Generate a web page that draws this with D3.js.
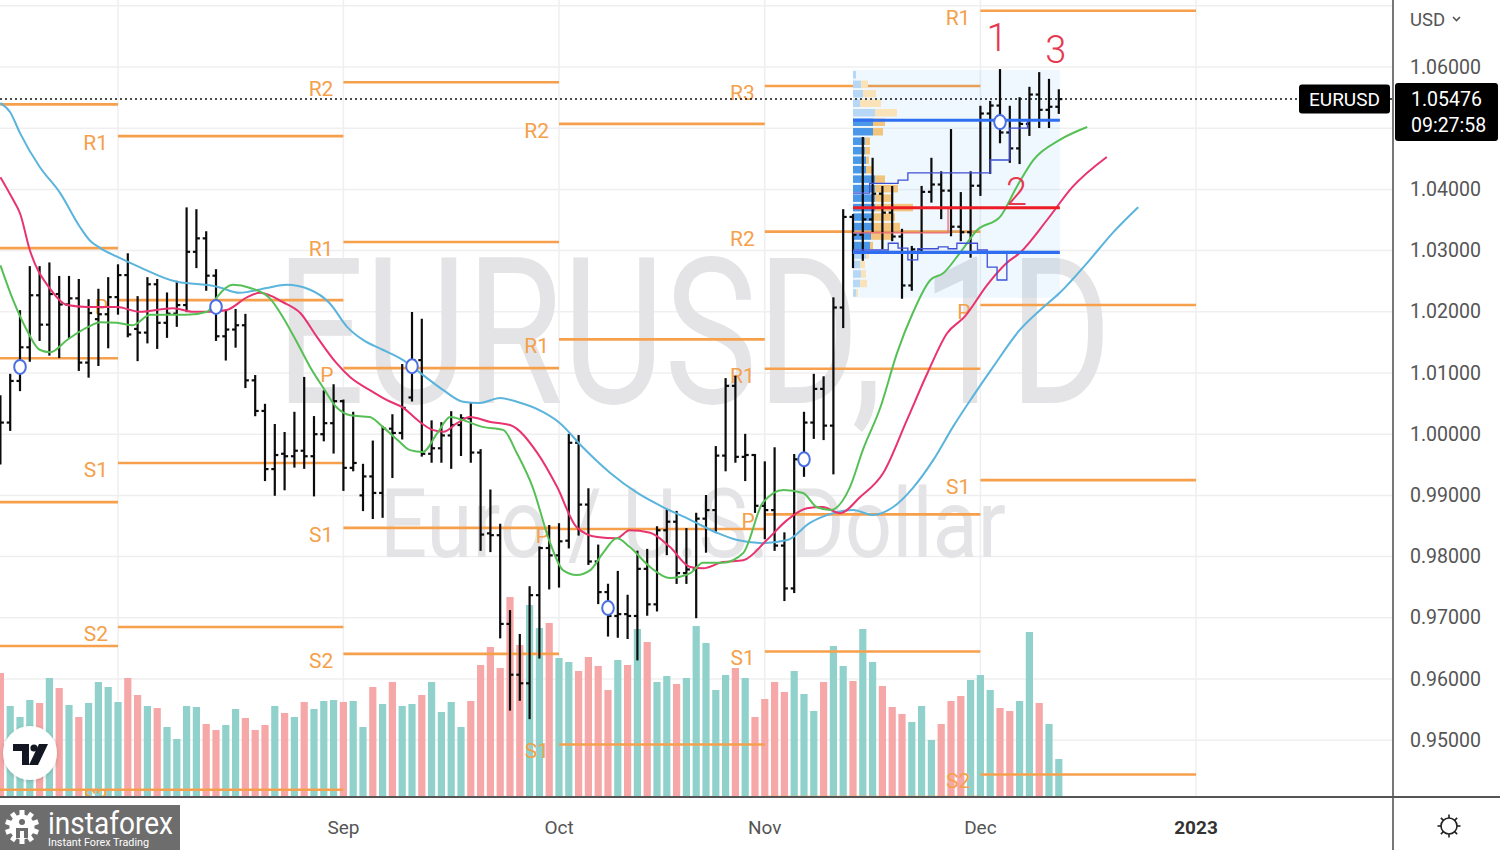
<!DOCTYPE html>
<html><head><meta charset="utf-8">
<script src="https://cdn.jsdelivr.net/npm/d3@7"></script>
<style>html,body{margin:0;padding:0;background:#fff;overflow:hidden}svg{display:block}</style>
</head><body>
<svg id="c" width="1500" height="850"></svg>
<script>
// ---------------- DATA ----------------
const dates = ["2022-07-14","2022-07-15","2022-07-18","2022-07-19","2022-07-20","2022-07-21","2022-07-22","2022-07-25","2022-07-26","2022-07-27","2022-07-28","2022-07-29",
"2022-08-01","2022-08-02","2022-08-03","2022-08-04","2022-08-05","2022-08-08","2022-08-09","2022-08-10","2022-08-11","2022-08-12","2022-08-15","2022-08-16","2022-08-17","2022-08-18","2022-08-19","2022-08-22","2022-08-23","2022-08-24","2022-08-25","2022-08-26","2022-08-29","2022-08-30","2022-08-31",
"2022-09-01","2022-09-02","2022-09-05","2022-09-06","2022-09-07","2022-09-08","2022-09-09","2022-09-12","2022-09-13","2022-09-14","2022-09-15","2022-09-16","2022-09-19","2022-09-20","2022-09-21","2022-09-22","2022-09-23","2022-09-26","2022-09-27","2022-09-28","2022-09-29","2022-09-30",
"2022-10-03","2022-10-04","2022-10-05","2022-10-06","2022-10-07","2022-10-10","2022-10-11","2022-10-12","2022-10-13","2022-10-14","2022-10-17","2022-10-18","2022-10-19","2022-10-20","2022-10-21","2022-10-24","2022-10-25","2022-10-26","2022-10-27","2022-10-28","2022-10-31",
"2022-11-01","2022-11-02","2022-11-03","2022-11-04","2022-11-07","2022-11-08","2022-11-09","2022-11-10","2022-11-11","2022-11-14","2022-11-15","2022-11-16","2022-11-17","2022-11-18","2022-11-21","2022-11-22","2022-11-23","2022-11-24","2022-11-25","2022-11-28","2022-11-29","2022-11-30",
"2022-12-01","2022-12-02","2022-12-05","2022-12-06","2022-12-07","2022-12-08","2022-12-09","2022-12-12","2022-12-13"];

const openP = [1.0058,1.0019,1.0087,1.0142,1.0227,1.0179,1.0229,1.0212,1.0222,1.0117,1.0188,1.0196,
1.0224,1.0260,1.0172,1.0166,1.0245,1.0182,1.0197,1.0211,1.0298,1.0320,1.0259,1.0160,1.0171,1.0178,1.0088,1.0038,0.9943,0.9968,0.9964,0.9973,0.9964,1.0000,1.0018,
1.0054,0.9945,0.9900,0.9931,0.9904,1.0009,1.0002,1.0060,1.0121,0.9968,0.9977,0.9998,1.0015,1.0026,0.9970,0.9838,0.9835,0.9690,0.9607,0.9593,0.9737,0.9814,
0.9802,0.9826,0.9986,0.9885,0.9792,0.9742,0.9703,0.9706,0.9703,0.9780,0.9722,0.9843,0.9857,0.9773,0.9779,0.9862,0.9876,0.9965,1.0079,0.9963,0.9966,
0.9883,0.9876,0.9818,0.9748,0.9959,1.0019,1.0074,1.0014,1.0207,1.0355,1.0326,1.0351,1.0393,1.0362,1.0323,1.0243,1.0302,1.0396,1.0408,1.0398,1.0339,1.0330,
1.0406,1.0524,1.0537,1.0493,1.0467,1.0507,1.0555,1.0530,1.0535];

const highP = [1.0062,1.0097,1.0201,1.0273,1.0273,1.0279,1.0257,1.0257,1.0252,1.0219,1.0236,1.0255,
1.0276,1.0294,1.0224,1.0255,1.0252,1.0230,1.0249,1.0369,1.0366,1.0330,1.0268,1.0202,1.0203,1.0195,1.0095,1.0048,1.0015,1.0002,1.0035,1.0092,1.0028,1.0070,1.0080,
1.0055,1.0035,0.9950,0.9988,1.0012,1.0031,1.0113,1.0198,1.0187,1.0021,1.0018,1.0036,1.0031,1.0051,0.9974,0.9908,0.9852,0.9711,0.9672,0.9750,0.9815,0.9850,
0.9853,0.9999,0.9997,0.9910,0.9818,0.9754,0.9775,0.9736,0.9808,0.9811,0.9848,0.9876,0.9873,0.9845,0.9870,0.9899,0.9979,1.0090,1.0094,0.9999,0.9966,
0.9954,0.9977,0.9838,0.9966,1.0035,1.0097,1.0093,1.0222,1.0366,1.0358,1.0484,1.0450,1.0404,1.0404,1.0334,1.0306,1.0404,1.0450,1.0428,1.0497,1.0394,1.0428,
1.0535,1.0543,1.0595,1.0535,1.0549,1.0566,1.0590,1.0579,1.0562];

const lowP = [0.9952,1.0007,1.0072,1.0120,1.0154,1.0130,1.0126,1.0159,1.0105,1.0094,1.0113,1.0142,
1.0197,1.0160,1.0121,1.0150,1.0141,1.0159,1.0177,1.0201,1.0273,1.0236,1.0154,1.0122,1.0143,1.0077,1.0031,0.9925,0.9901,0.9910,0.9947,0.9945,0.9900,0.9990,0.9970,
0.9909,0.9941,0.9876,0.9863,0.9865,0.9930,0.9993,1.0055,0.9965,0.9955,0.9955,0.9945,0.9966,0.9955,0.9811,0.9809,0.9668,0.9550,0.9566,0.9536,0.9635,0.9748,
0.9751,0.9815,0.9836,0.9788,0.9724,0.9671,0.9669,0.9667,0.9632,0.9705,0.9712,0.9804,0.9757,0.9757,0.9701,0.9808,0.9840,0.9941,0.9955,0.9925,0.9873,
0.9830,0.9811,0.9729,0.9742,0.9932,0.9994,0.9992,0.9936,1.0175,1.0273,1.0285,1.0332,1.0304,1.0317,1.0223,1.0236,1.0296,1.0380,1.0353,1.0325,1.0317,1.0290,
1.0391,1.0427,1.0477,1.0445,1.0443,1.0489,1.0502,1.0502,1.0525];

const closeP = [1.0019,1.0087,1.0142,1.0227,1.0179,1.0229,1.0212,1.0222,1.0117,1.0198,1.0196,1.0224,
1.0260,1.0163,1.0166,1.0245,1.0182,1.0197,1.0211,1.0298,1.0320,1.0259,1.0160,1.0171,1.0178,1.0088,1.0038,0.9943,0.9966,0.9964,0.9973,0.9964,1.0000,1.0018,1.0054,
0.9945,0.9953,0.9931,0.9904,1.0009,1.0002,1.0043,1.0121,0.9968,0.9977,0.9998,1.0015,1.0026,0.9970,0.9836,0.9835,0.9690,0.9607,0.9593,0.9737,0.9814,0.9802,
0.9825,0.9986,0.9885,0.9792,0.9742,0.9703,0.9706,0.9703,0.9780,0.9722,0.9843,0.9857,0.9773,0.9779,0.9862,0.9876,0.9965,1.0079,0.9963,0.9966,0.9883,
0.9876,0.9818,0.9748,0.9959,1.0019,1.0074,1.0014,1.0207,1.0355,1.0326,1.0351,1.0393,1.0362,1.0323,1.0243,1.0302,1.0396,1.0408,1.0398,1.0339,1.0330,1.0406,
1.0524,1.0537,1.0493,1.0467,1.0507,1.0555,1.0530,1.0535,1.05476];

const volume = [124,91,80,97,94,119,109,92,80,94,115,110,
95,119,102,91,89,70,58,91,90,73,67,72,88,79,67,72,91,84,80,95,88,96,97,
95,96,70,110,93,115,91,93,102,115,85,95,70,96,132,150,129,200,152,192,169,174,
139,135,126,140,131,107,137,132,168,155,115,121,113,119,171,154,107,122,129,119,80,
98,115,105,126,103,86,115,151,131,116,168,135,111,90,83,75,91,57,73,96,101,117,
122,107,89,86,96,165,94,73,38];

// session offset of first bar relative to 1 Aug 2022
const firstOffset = -12;

// time axis (the "Aug" label sits under the broker logo in the reference)
const monthTickOffsets = [0,23,45,66,88,110];
const monthTickLabels = ["Aug","Sep","Oct","Nov","Dec","2023"];
const hiddenTickLabels = ["Aug"];

// price axis
const priceGrid = [0.94,0.95,0.96,0.97,0.98,0.99,1.00,1.01,1.02,1.03,1.04,1.05,1.06,1.07];
const priceLabels = [1.06,1.04,1.03,1.02,1.01,1.00,0.99,0.98,0.97,0.96,0.95];

// Alligator lines (session offset, price)
const jawAt  = [-12,-11,-10,-8,-5.9,-3.9,-2.9,-1.8,-0.1,2.2,6,8.4,10.1,12.4,15.2,17.2,19.6,21.6,23.4,25,27,29.1,31.1,33.2,35.2,36.9,39,40.7,43.4,45.1,47.4,50.2,53,55.6,58.4,61.1,63.2,65.8,68.3,70.6,73,75,77,79.1,81.1,83.2,85.2,87.2,89.3,92,94.1,96.1,98.9,101.5,104.1];
const jawVal = [1.0541,1.0526,1.0492,1.0437,1.0394,1.0339,1.0317,1.0304,1.0290,1.0273,1.0249,1.0245,1.0241,1.0231,1.0239,1.0244,1.0236,1.0214,1.0175,1.0154,1.0138,1.0121,1.0097,1.0072,1.0053,1.0051,1.0059,1.0053,1.0036,1.0018,0.9979,0.9937,0.9904,0.9881,0.9860,0.9839,0.9827,0.9822,0.9827,0.9855,0.9871,0.9876,0.9868,0.9881,0.9912,0.9958,1.0012,1.0061,1.0110,1.0170,1.0203,1.0231,1.0280,1.0329,1.0371];
const teethAt  = [-12,-10.7,-10,-9,-6.9,-5.2,-3.2,-0.1,2.2,5.6,7.7,9.4,11.1,13.2,14.5,16.8,18.6,20.3,22.3,23.7,25.7,27.4,29.1,30.8,32.1,33.2,34.6,35.9,38,40,42.8,44.8,46.8,48.9,50.9,52.2,54.3,56.3,58.4,59.7,61.7,63.8,66.2,68.3,70.3,71.9,73.7,75.7,78.1,80.5,82.6,84.6,86.4,88.7,90.7,92,94.8,97.4,100.9];
const teethVal = [1.0420,1.0383,1.0361,1.0301,1.0237,1.0211,1.0208,1.0208,1.0200,1.0206,1.0200,1.0200,1.0203,1.0224,1.0231,1.0216,1.0198,1.0159,1.0116,1.0093,1.0072,1.0056,1.0043,1.0020,1.0007,1.0004,1.0018,1.0028,1.0020,1.0015,0.9969,0.9914,0.9848,0.9832,0.9830,0.9843,0.9839,0.9816,0.9783,0.9781,0.9791,0.9794,0.9827,0.9860,0.9879,0.9881,0.9871,0.9897,0.9937,1.0023,1.0100,1.0165,1.0192,1.0244,1.0280,1.0296,1.0350,1.0404,1.0453];
const lipsAt  = [-12,-10.7,-9.3,-8,-6.9,-5.2,-3.2,-1.8,-0.1,1.5,3.3,7,9.1,10.1,11.7,13.5,15.5,16.8,18.3,19.6,20.9,22.3,23.7,25.7,27,28.5,29.8,31.1,32.6,33.9,35.2,37.2,39.3,40.7,42.3,44.1,45.4,46.8,48.2,49.5,50.9,52.2,54.3,56.3,58.4,59.7,61.7,63.8,65.8,67.9,69.9,71.3,72.7,74.7,76,77.8,79.5,81.1,82.9,84.2,85.9,87.7,90,91.7,93.4,96.1,98.9];
const lipsVal = [1.0276,1.0219,1.0170,1.0138,1.0134,1.0154,1.0174,1.0183,1.0182,1.0178,1.0195,1.0195,1.0200,1.0224,1.0244,1.0239,1.0222,1.0192,1.0149,1.0110,1.0077,1.0044,1.0031,1.0028,1.0012,0.9991,0.9974,0.9971,1.0002,1.0028,1.0023,1.0012,1.0007,0.9969,0.9914,0.9822,0.9778,0.9770,0.9778,0.9806,0.9830,0.9816,0.9783,0.9765,0.9773,0.9790,0.9790,0.9806,0.9888,0.9909,0.9904,0.9881,0.9876,0.9914,0.9974,1.0044,1.0133,1.0198,1.0252,1.0263,1.0296,1.0334,1.0355,1.0404,1.0448,1.0481,1.0502];

// monthly pivot points (Jul..Dec)
const pivotStart = [-21,0,23,45,66,88];
const pivotEnd   = [0,23,45,66,88,110];
const pivotNames = ["R3","R2","R1","P","S1","S2","S3","S4","S5"];
const pivR3 = [null,null,null,null,1.0569,null];
const pivR2 = [null,null,1.0575,1.0507,1.0331,null];
const pivR1 = [null,1.0487,1.0314,1.0155,1.0107,1.0692];
const pivP  = [1.0539,1.0219,1.0108,0.9845,0.9869,1.0211];
const pivS1 = [1.0304,0.9953,0.9847,0.9493,0.9645,0.9925];
const pivS2 = [1.0124,0.9685,0.9641,null,0.9407,0.9444];
const pivS3 = [0.9889,0.9419,null,null,null,null];
const pivS4 = [0.9654,null,null,null,null,null];
const pivS5 = [0.9419,null,null,null,null,null];

// marker circles
const circleAt = [-10,10,30,50,70,90];
const circleVal = [1.0110,1.0208,1.0111,0.9716,0.9959,1.0510];

// fixed range volume profile
const vpFrom = 75, vpTo = 96.1, vpHigh = 1.0595, vpLow = 1.0223;
const vpUp   = [3,8,10,7,22,20,20,12,12,13,13,22,22,22,22,20,20,18,17,13,7,8,7,3];
const vpDown = [0,7,13,21,22,12,10,5,5,3,7,10,23,18,38,22,27,22,3,3,5,5,7,2];
const vpValueArea = [5,18];
const vpPOC = 1.0370, vpVAH = 1.0513, vpVAL = 1.0297;
const devVahAt = [75,76.7,79.6,80.6,89,91,92.8,96.1];
const devVahVal = [1.0394,1.0410,1.0415,1.0427,1.0448,1.0500,1.0513,1.0513];
const devValAt = [75,78.6,79.6,80.6,81.6,83.7,84.7,85.6,87.7,88.7,89.7,90.7,96.1];
const devValVal = [1.0301,1.0312,1.0304,1.0285,1.0303,1.0306,1.0303,1.0312,1.0301,1.0273,1.0252,1.0296,1.0296];
const devPocAt = [75,84.7,96.1];
const devPocVal = [1.0329,1.0370,1.0370];

// annotations
const noteText = ["1","2","3"];
const noteAt = [89.7,91.7,95.7];
const noteVal = [1.0647,1.0396,1.0627];

const lastPrice = 1.05476;
const countdown = "09:27:58";
const symbol = "EURUSD";

// ---------------- CHART ----------------
const FONT = "Roboto, 'Noto Sans', 'Liberation Sans', sans-serif";
const svg = d3.select("#c");
const plotR = 1393, plotB = 797;
const x = d3.scaleLinear().domain([0,110]).range([118,1196]);
const y = d3.scaleLinear().domain([0.95,1.06]).range([740.2,67]);
const vy = d3.scaleLinear().domain([0,200]).range([plotB, plotB-200]);
const bx = i => x(i + firstOffset);

svg.append("rect").attr("width",1500).attr("height",850).attr("fill","#ffffff");
const defs = svg.append("defs");
defs.append("clipPath").attr("id","plot").append("rect").attr("x",0).attr("y",0).attr("width",plotR).attr("height",plotB);
const f = defs.append("filter").attr("id","sh").attr("x","-30%").attr("y","-30%").attr("width","160%").attr("height","160%");
f.append("feDropShadow").attr("dx",0).attr("dy",1).attr("stdDeviation",2).attr("flood-color","#000").attr("flood-opacity",0.18);

const plot = svg.append("g").attr("clip-path","url(#plot)");

// grid
plot.append("g").selectAll("line").data(priceGrid).join("line")
  .attr("x1",0).attr("x2",plotR).attr("y1",d=>y(d)).attr("y2",d=>y(d))
  .attr("stroke","#efeff1").attr("stroke-width",1.5);
plot.append("g").selectAll("line").data(monthTickOffsets).join("line")
  .attr("x1",d=>x(d)).attr("x2",d=>x(d)).attr("y1",0).attr("y2",plotB)
  .attr("stroke","#efeff1").attr("stroke-width",1.5);

// watermark
plot.append("text").text("EURUSD, 1D").attr("x",276).attr("y",403)
  .attr("font-family",FONT).attr("font-size",204).attr("fill","#e4e4e6")
  .attr("textLength",836).attr("lengthAdjust","spacingAndGlyphs");
plot.append("text").text("Euro / U.S. Dollar").attr("x",380).attr("y",557)
  .attr("font-family",FONT).attr("font-size",97).attr("fill","#e4e4e6")
  .attr("textLength",626).attr("lengthAdjust","spacingAndGlyphs");

// volume
plot.append("g").selectAll("rect").data(volume).join("rect")
  .attr("x",(d,i)=>bx(i)-3.6).attr("width",7.2)
  .attr("y",d=>vy(d)).attr("height",d=>plotB-vy(d))
  .attr("fill",(d,i)=> closeP[i]>=openP[i] ? "#90d2cb" : "#f6a7a7");

// pivots
const pivLevels = [pivR3,pivR2,pivR1,pivP,pivS1,pivS2,pivS3,pivS4,pivS5];
const pivSegs = [];
pivLevels.forEach((arr,li)=>arr.forEach((v,m)=>{ if(v!==null) pivSegs.push({name:pivotNames[li],v,m}); }));
const pg = plot.append("g");
pg.selectAll("line").data(pivSegs).join("line")
  .attr("x1",d=>x(pivotStart[d.m])).attr("x2",d=>x(pivotEnd[d.m]))
  .attr("y1",d=>y(d.v)).attr("y2",d=>y(d.v))
  .attr("stroke","#f7a04c").attr("stroke-width",2.6);
// labels only where the segment start is on screen (July labels fall left of the view)
pg.selectAll("text").data(pivSegs.filter(d=>x(pivotStart[d.m])>20)).join("text")
  .attr("x",d=>x(pivotStart[d.m])-10).attr("y",d=>y(d.v)+7)
  .attr("text-anchor","end").attr("dominant-baseline","central")
  .attr("font-family",FONT).attr("font-size",21).attr("fill","#f5a04a").text(d=>d.name);

// volume profile box and rows
const vpX0 = x(vpFrom), vpX1 = x(vpTo);
plot.append("rect").attr("x",vpX0).attr("y",y(vpHigh)).attr("width",vpX1-vpX0).attr("height",y(vpLow)-y(vpHigh))
  .attr("fill","#2196f3").attr("fill-opacity",0.07);
const rowH = (y(vpLow)-y(vpHigh))/vpUp.length;
const vw = d3.scaleLinear().domain([0,60]).range([0,60]);
const vpg = plot.append("g");
vpUp.forEach((u,r)=>{
  const inVA = r>=vpValueArea[0] && r<=vpValueArea[1];
  const ry = y(vpHigh)+r*rowH+1;
  vpg.append("rect").attr("x",vpX0).attr("y",ry).attr("width",vw(u)).attr("height",rowH-2)
    .attr("fill", inVA ? "#4b97e8" : "#b7d7f6");
  vpg.append("rect").attr("x",vpX0+vw(u)).attr("y",ry).attr("width",vw(vpDown[r])).attr("height",rowH-2)
    .attr("fill", inVA ? "#f2c47c" : "#fae3b8");
});

// OHLC bars
const bg = plot.append("g").attr("stroke","#0b0b0b").attr("stroke-width",2.2);
dates.forEach((d,i)=>{
  const cx = bx(i);
  bg.append("line").attr("x1",cx).attr("x2",cx).attr("y1",y(highP[i])-1).attr("y2",y(lowP[i])+1);
  bg.append("line").attr("x1",cx-3.5).attr("x2",cx).attr("y1",y(openP[i])).attr("y2",y(openP[i]));
  bg.append("line").attr("x1",cx).attr("x2",cx+3.5).attr("y1",y(closeP[i])).attr("y2",y(closeP[i]));
});

// Alligator
const line = d3.line().x(d=>x(d[0])).y(d=>y(d[1])).curve(d3.curveMonotoneX);
[[jawAt,jawVal,"#5ab4dc"],[teethAt,teethVal,"#e8336f"],[lipsAt,lipsVal,"#56c056"]].forEach(([a,v,c])=>{
  plot.append("path").datum(a.map((t,k)=>[t,v[k]])).attr("d",line)
    .attr("fill","none").attr("stroke",c).attr("stroke-width",2);
});

// VP lines
const stepL = d3.line().x(d=>x(d[0])).y(d=>y(d[1])).curve(d3.curveStepAfter);
plot.append("path").datum(devVahAt.map((t,k)=>[t,devVahVal[k]])).attr("d",stepL).attr("fill","none").attr("stroke","#3f4fd6").attr("stroke-width",1.3);
plot.append("path").datum(devValAt.map((t,k)=>[t,devValVal[k]])).attr("d",stepL).attr("fill","none").attr("stroke","#3f4fd6").attr("stroke-width",1.3);
plot.append("path").datum(devPocAt.map((t,k)=>[t,devPocVal[k]])).attr("d",stepL).attr("fill","none").attr("stroke","#f06a78").attr("stroke-width",1.3);
[[vpVAH,"#2f6ef0"],[vpVAL,"#2f6ef0"],[vpPOC,"#ee1c25"]].forEach(([v,c])=>{
  plot.append("line").attr("x1",vpX0).attr("x2",vpX1).attr("y1",y(v)).attr("y2",y(v))
    .attr("stroke",c).attr("stroke-width",3.2);
});

// circles
plot.append("g").selectAll("ellipse").data(circleAt).join("ellipse")
  .attr("cx",d=>x(d)).attr("cy",(d,i)=>y(circleVal[i])).attr("rx",5.8).attr("ry",7)
  .attr("fill","#fff").attr("stroke","#4a6fe3").attr("stroke-width",2);

// last price dotted line
plot.append("line").attr("x1",0).attr("x2",plotR).attr("y1",y(lastPrice)).attr("y2",y(lastPrice))
  .attr("stroke","#111").attr("stroke-width",1.5).attr("stroke-dasharray","2,3");

// annotations
plot.append("g").selectAll("text").data(noteText).join("text")
  .attr("x",(d,i)=>x(noteAt[i])).attr("y",(d,i)=>y(noteVal[i])).attr("text-anchor","middle")
  .attr("dominant-baseline","central").attr("font-family",FONT).attr("font-weight",300)
  .attr("font-size",38).attr("fill","#e63950").text(d=>d);

// ---------- axes ----------
svg.append("line").attr("x1",plotR).attr("x2",plotR).attr("y1",0).attr("y2",850).attr("stroke","#4a4a4a").attr("stroke-width",1.5);
svg.append("line").attr("x1",0).attr("x2",1500).attr("y1",plotB).attr("y2",plotB).attr("stroke","#555").attr("stroke-width",2);

svg.append("g").selectAll("text").data(priceLabels).join("text")
  .attr("x",1410).attr("y",d=>y(d)).attr("dominant-baseline","central")
  .attr("font-family",FONT).attr("font-size",19.5).attr("fill","#555")
  .text(d=>d3.format(".5f")(d));
svg.append("text").attr("x",1410).attr("y",20).attr("dominant-baseline","central")
  .attr("font-family",FONT).attr("font-size",18.5).attr("fill","#555").text("USD");
svg.append("path").attr("d","M1453,17 l3.5,3.5 l3.5,-3.5").attr("fill","none").attr("stroke","#555").attr("stroke-width",1.6);

const shownTicks = monthTickLabels.map((t,i)=>({t,i})).filter(d=>!hiddenTickLabels.includes(d.t));
svg.append("g").selectAll("text").data(shownTicks).join("text")
  .attr("x",d=>x(monthTickOffsets[d.i])).attr("y",827).attr("text-anchor","middle")
  .attr("dominant-baseline","central").attr("font-family",FONT).attr("font-size",19)
  .attr("font-weight",d=> d.i===monthTickLabels.length-1 ? 700 : 400)
  .attr("fill",d=> d.i===monthTickLabels.length-1 ? "#333" : "#555").text(d=>d.t);

// price tags
const ly = y(lastPrice);
svg.append("rect").attr("x",1299).attr("y",ly-14.5).attr("width",91).attr("height",29).attr("rx",3).attr("fill","#000");
svg.append("text").attr("x",1344.5).attr("y",ly).attr("text-anchor","middle").attr("dominant-baseline","central")
  .attr("font-family",FONT).attr("font-size",19).attr("fill","#fff").text(symbol);
svg.append("rect").attr("x",1395).attr("y",ly-16).attr("width",103).attr("height",58).attr("rx",3).attr("fill","#000");
svg.append("text").attr("x",1411).attr("y",ly).attr("dominant-baseline","central")
  .attr("font-family",FONT).attr("font-size",19.5).attr("fill","#fff").text(d3.format(".5f")(lastPrice));
svg.append("text").attr("x",1411).attr("y",ly+26).attr("dominant-baseline","central")
  .attr("font-family",FONT).attr("font-size",19.5).attr("fill","#fff").text(countdown);

// settings icon
const gear = svg.append("g").attr("transform","translate(1449,826)").attr("stroke","#222").attr("stroke-width",1.6).attr("fill","none");
gear.append("circle").attr("r",8);
d3.range(8).forEach(k=>{const a=k*Math.PI/4; gear.append("line").attr("x1",8*Math.cos(a)).attr("y1",8*Math.sin(a)).attr("x2",11.5*Math.cos(a)).attr("y2",11.5*Math.sin(a));});

// TradingView logo
const tv = svg.append("g").attr("transform","translate(30,753)");
tv.append("circle").attr("r",27).attr("fill","#fff").attr("filter","url(#sh)");
tv.append("path").attr("d","M-17,-9 H-1 V12 H-8 V-2 H-17 Z").attr("fill","#131722");
tv.append("circle").attr("cx",4).attr("cy",-5).attr("r",3.6).attr("fill","#131722");
tv.append("path").attr("d","M9,-9 H18 L8,12 H-1 Z").attr("fill","#131722");

// instaforex logo
const ig = svg.append("g");
ig.append("rect").attr("x",0).attr("y",805).attr("width",180).attr("height",45).attr("fill","#6d6d6d");
const gg = ig.append("g").attr("transform","translate(22,827)");
d3.range(10).forEach(k=>{gg.append("rect").attr("x",-2.5).attr("y",-17).attr("width",5).attr("height",6).attr("fill","#fff").attr("transform",`rotate(${k*36})`);});
gg.append("circle").attr("r",12.5).attr("fill","#fff");
gg.append("circle").attr("cx",0).attr("cy",-5).attr("r",3).attr("fill","#6d6d6d");
gg.append("path").attr("d","M-6,1 H6 V11 H2 V4 H-2 V11 H-6 Z").attr("fill","#6d6d6d");
ig.append("text").attr("x",48).attr("y",834).attr("font-family",FONT).attr("font-size",31).attr("fill","#fff")
  .attr("textLength",125).attr("lengthAdjust","spacingAndGlyphs").text("instaforex");
ig.append("text").attr("x",48).attr("y",846).attr("font-family",FONT).attr("font-size",11.5).attr("fill","#fff")
  .attr("textLength",101).attr("lengthAdjust","spacingAndGlyphs").text("Instant Forex Trading");
</script>
</body></html>
